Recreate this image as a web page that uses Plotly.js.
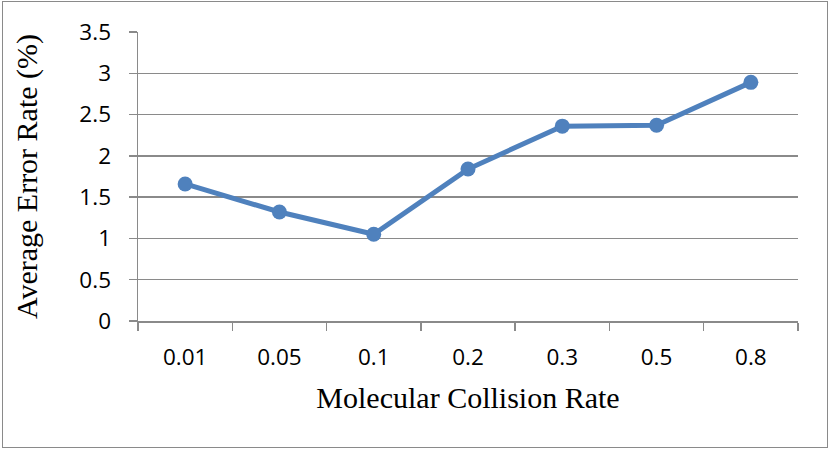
<!DOCTYPE html>
<html>
<head>
<meta charset="utf-8">
<script src="https://cdn.plot.ly/plotly-3.0.1.min.js"></script>
<style>
  html, body { margin: 0; padding: 0; background: #fff; }
  #wrap { position: relative; width: 830px; height: 451px; }
  #chart { width: 830px; height: 451px; }
  #frame { position: absolute; left: 2px; top: 1px; width: 824px; height: 445px;
           border: 1.5px solid #8a8a8a; pointer-events: none; }
</style>
</head>
<body>
<div id="wrap">
  <div id="chart"></div>
  <div id="frame"></div>
</div>
<script>
const categories = ["0.01", "0.05", "0.1", "0.2", "0.3", "0.5", "0.8"];
const errorRate = [1.66, 1.32, 1.05, 1.84, 2.36, 2.37, 2.89];
const yTickVals = [0, 0.5, 1, 1.5, 2, 2.5, 3, 3.5];
const yTickText = ["0", "0.5", "1", "1.5", "2", "2.5", "3", "3.5"];

const trace = {
  x: categories,
  y: errorRate,
  type: "scatter",
  mode: "lines+markers",
  line: { color: "#4F81BD", width: 5 },
  marker: { color: "#4F81BD", size: 15 },
  hoverinfo: "skip"
};

const layout = {
  width: 830,
  height: 451,
  margin: { l: 138, r: 32, t: 32, b: 130 },
  paper_bgcolor: "#ffffff",
  plot_bgcolor: "#ffffff",
  showlegend: false,
  xaxis: {
    type: "category",
    range: [-0.5, 6.5],
    tickson: "boundaries",
    ticks: "outside",
    ticklen: 8,
    tickwidth: 1.5,
    tickcolor: "#8a8a8a",
    showline: true,
    linecolor: "#8a8a8a",
    linewidth: 1.5,
    showgrid: false,
    zeroline: false,
    ticklabelstandoff: 15,
    tickfont: { family: "Open Sans, sans-serif", size: 22.5, color: "#000" },
    title: {
      text: "Molecular Collision Rate",
      font: { family: "Liberation Serif, Times New Roman, serif", size: 30, color: "#000" },
      standoff: 16
    }
  },
  yaxis: {
    range: [0, 3.5],
    tickvals: yTickVals,
    ticktext: yTickText,
    ticks: "outside",
    ticklen: 8,
    tickwidth: 1.5,
    tickcolor: "#8a8a8a",
    showline: true,
    linecolor: "#8a8a8a",
    linewidth: 1.5,
    showgrid: true,
    gridcolor: "#8a8a8a",
    gridwidth: 1.5,
    zeroline: false,
    ticklabelstandoff: 13,
    tickfont: { family: "Open Sans, sans-serif", size: 22.5, color: "#000" },
    title: {
      text: "Average Error Rate (%)",
      font: { family: "Liberation Serif, Times New Roman, serif", size: 30, color: "#000" },
      standoff: 33
    }
  }
};

Plotly.newPlot("chart", [trace], layout, { displayModeBar: false, staticPlot: true });
</script>
</body>
</html>
